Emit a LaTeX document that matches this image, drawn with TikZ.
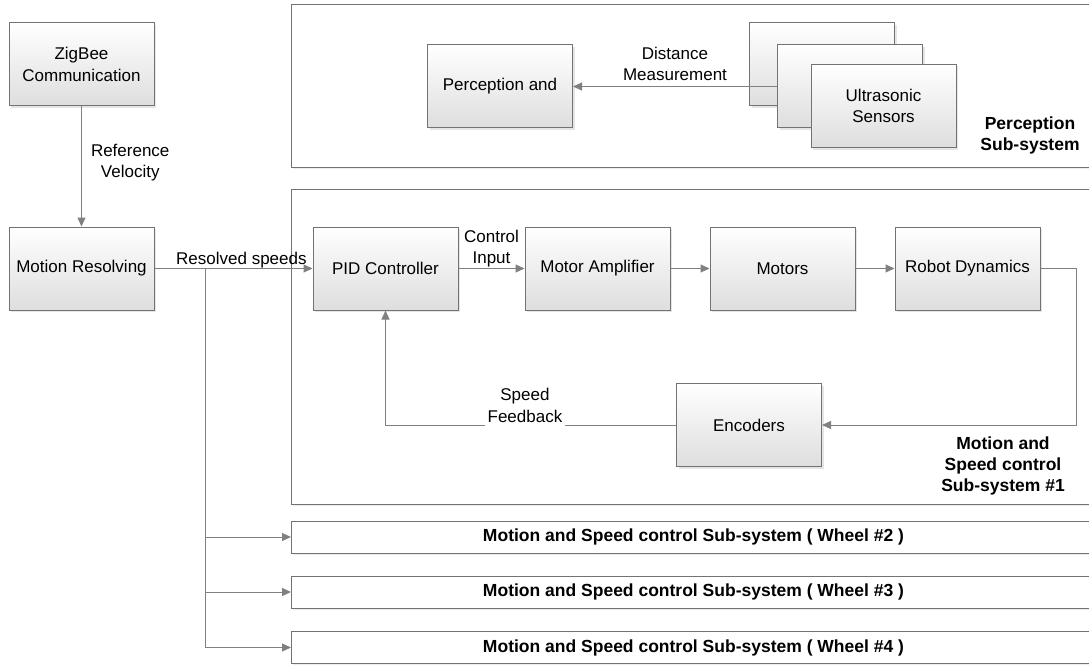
\documentclass[tikz,border=0pt]{standalone}
\usepackage{fontspec}
\setmainfont{Liberation Sans}
\usetikzlibrary{arrows.meta, positioning, shadows, calc}

\begin{document}
\begin{tikzpicture}[x=1pt, y=-1pt]
	\tikzset{
		block/.style = {draw=black!55, line width=1pt, top color=white, bottom color=black!13, minimum width=145pt, minimum height=83pt, align=center, inner sep=1pt, font=\fontsize{17}{21.5}\selectfont, drop shadow={opacity=0.2, shadow xshift=2pt, shadow yshift=-2pt}},
		group/.style = {draw=black!55, line width=1pt, fill=white, drop shadow={opacity=0.15, shadow xshift=1.5pt, shadow yshift=-1.5pt}},
		wheel/.style = {group, anchor=west, minimum width=804pt, minimum height=32pt, inner sep=0pt, font=\bfseries\fontsize{17.5}{21.5}\selectfont},
		arrow/.style = {-{Triangle[length=9pt, width=8pt]}, draw=black!50, line width=1pt},
		label/.style = {font=\fontsize{17}{21.5}\selectfont, align=center, inner sep=1pt},
		title/.style = {font=\bfseries\fontsize{17.5}{21}\selectfont, align=center, inner sep=0pt},
	}

	\useasboundingbox (0,0) rectangle (1089,666);

	% sub-system frames (open to the right)
	\draw[group] (291,5) rectangle (1100,167);
	\draw[group] (291,189) rectangle (1100,504);

	\node[title] (perctitle) at (1030,135) {Perception\\Sub-system};
	\node[title] (mottitle) at (1003,466) {Motion and\\Speed control\\Sub-system \#1};

	% left column
	\node[block] (zigbee) at (81.5,64.5) {ZigBee\\Communication};
	\node[block] (resolve) at (81.5,268.5) {Motion Resolving};

	% perception
	\node[block] (percep) at (500,86.5) {Perception and};
	\node[block] (sens3) at (822,64.5) {};
	\node[block] (sens2) at (850,86.5) {};
	\node[block] (sens1) at (883.5,106) {Ultrasonic\\Sensors};

	% speed loop
	\node[block] (pid) at (385.5,268.5) {PID Controller};
	\node[block, right=66pt of pid] (amp) {Motor Amplifier};
	\node[block, right=39pt of amp] (motors) {Motors};
	\node[block, right=39pt of motors] (dyn) {Robot Dynamics};
	\node[block] (enc) at (749,425) {Encoders};

	% other wheels
	\node[wheel] (wheel2) at (291,537) {Motion and Speed control Sub-system ( Wheel \#2 )};
	\node[wheel] (wheel3) at (291,592) {Motion and Speed control Sub-system ( Wheel \#3 )};
	\node[wheel] (wheel4) at (291,647.5) {Motion and Speed control Sub-system ( Wheel \#4 )};

	\coordinate (split) at (205,268.5);

	\draw[arrow] (zigbee) -- node[label, right, xshift=8pt, yshift=4pt] {Reference\\Velocity} (resolve);
	\draw[arrow] (sens2.west) -- node[label, anchor=south, yshift=4pt] {Distance\\Measurement} (percep.east);
	\draw[arrow] (resolve) -- node[label, pos=0.55, anchor=base, yshift=4pt, inner sep=0pt] {Resolved speeds} (pid);
	\draw[arrow] (pid) -- node[label, anchor=south, inner sep=0.5pt] {Control\\Input} (amp);
	\draw[arrow] (amp) -- (motors);
	\draw[arrow] (motors) -- (dyn);
	\draw[arrow] (dyn.east) -- ++(36,0) |- (enc.east);
	\draw[arrow] (enc.west) -| node[label, pos=0.26, anchor=south, fill=white, inner sep=3pt, yshift=-1pt] {Speed\\Feedback} (pid.south);

	\foreach \w in {wheel2, wheel3, wheel4}
		{
			\draw[arrow] (split) |- (\w.west);
		}

\end{tikzpicture}
\end{document}
